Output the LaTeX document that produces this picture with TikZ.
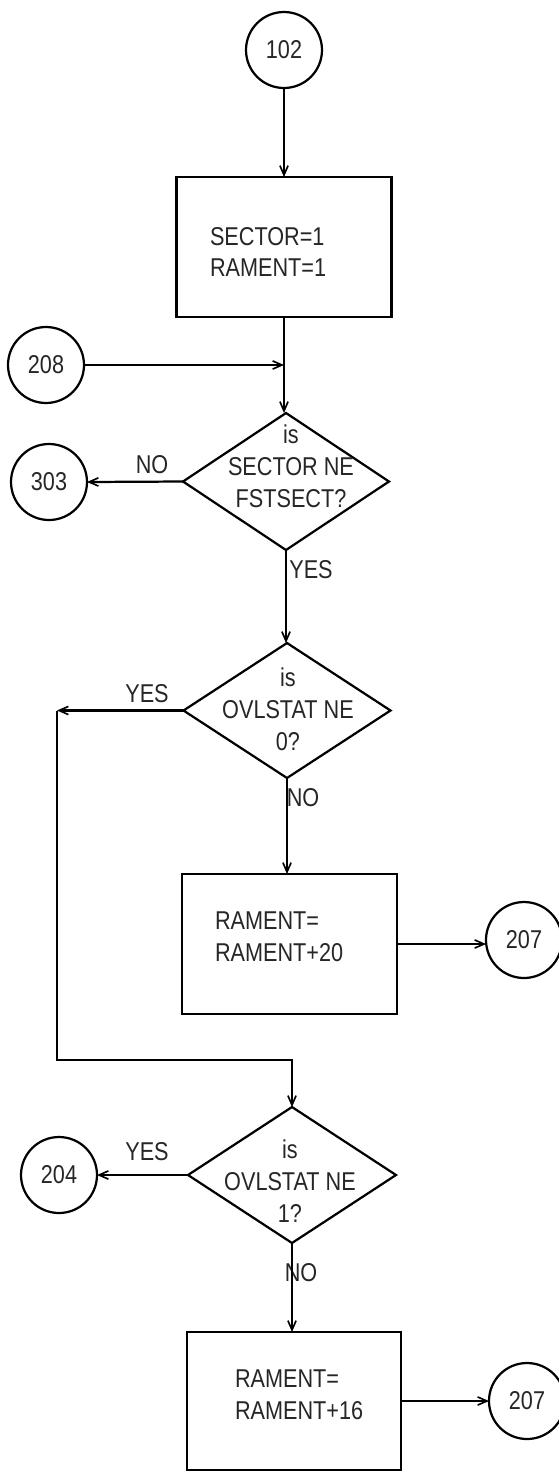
\documentclass[tikz,border=0pt]{standalone}
\usepackage{fontspec}
\setmainfont[FakeStretch=0.84]{Liberation Sans}
\usetikzlibrary{shapes.geometric,arrows.meta}
\begin{document}
\begin{tikzpicture}[x=0.03cm,y=-0.03cm,
  every node/.style={font=\fontsize{22}{27.2}\selectfont, inner sep=0pt, outer sep=0pt, text=black!85},
  conn/.style={circle, draw, line width=1.9pt, minimum size=76*0.03cm},
  stepbox/.style={rectangle, draw, line width=1.9pt},
  decide/.style={diamond, draw, line width=1.9pt},
  txt/.style={align=left, anchor=west},
  dtxt/.style={align=center},
  lbl/.style={},
  flow/.style={line width=1.9pt, -{Straight Barb[length=8pt,width=7pt,line width=1.4pt]}},
  plain/.style={line width=1.9pt}
]
\useasboundingbox[fill=white] (0,0) rectangle (559,1473);

% nodes
\node[conn] (c102) at (284,50) {102};
\node[stepbox, minimum width=215*0.03cm, minimum height=140*0.03cm] (b1) at (284,247) {};
\node[txt] (t1) at (210,252) {SECTOR=1\\RAMENT=1};

\node[conn] (c208) at (46,365) {208};
\node[decide, minimum width=206*0.03cm, minimum height=137*0.03cm] (d1) at (286,481.5) {};
\node[dtxt] (td1) at (291,466) {is\\SECTOR NE\\FSTSECT?};
\node[conn] (c303) at (49,482) {303};
\node[lbl] (no1) at (152,465) {NO};
\node[lbl] (yes1) at (311,570) {YES};

\node[decide, minimum width=207*0.03cm, minimum height=135*0.03cm] (d2) at (287,710.5) {};
\node[dtxt] (td2) at (288,709) {is\\OVLSTAT NE\\0?};
\node[lbl] (yes2) at (147,694) {YES};
\node[lbl] (no2) at (303,798) {NO};

\node[stepbox, minimum width=215*0.03cm, minimum height=140*0.03cm] (b2) at (289.5,944) {};
\node[txt] (t2) at (215,937) {RAMENT=\\RAMENT+20};
\node[conn] (c207a) at (524,940) {207};

\node[decide, minimum width=208*0.03cm, minimum height=136*0.03cm] (d3) at (292,1175) {};
\node[dtxt] (td3) at (290,1181) {is\\OVLSTAT NE\\1?};
\node[conn] (c204) at (59,1175) {204};
\node[lbl] (yes3) at (147,1152) {YES};
\node[lbl] (no3) at (301,1273) {NO};

\node[stepbox, minimum width=214*0.03cm, minimum height=138*0.03cm] (b3) at (294,1401) {};
\node[txt] (t3) at (235,1395) {RAMENT=\\RAMENT+16};
\node[conn] (c207b) at (527,1401) {207};

\coordinate (j1) at (c208 -| b1.south);
\coordinate (k1) at (57,710.5);
\coordinate (k2) at (57,1060);
\coordinate (k3) at (d3.north |- k2);

% connectors
\draw[flow] (c102.south) -- (c102.south |- b1.north);
\draw[plain] (b1.south) -- (j1);
\draw[flow] (j1) -- (j1 |- d1.north);
\draw[flow] (c208.east) -- (j1);
\draw[flow] (d1.west) -- (c303.east);
\draw[flow] (d1.south) -- (d1.south |- d2.north);
\draw[flow] (d2.west) -- (k1);
\draw[flow] (k1) -- (k2) -- (k3) -- (d3.north);
\draw[flow] (d2.south) -- (d2.south |- b2.north);
\draw[flow] (b2.east) -- (b2.east -| c207a.west);
\draw[flow] (d3.west) -- (c204.east);
\draw[flow] (d3.south) -- (d3.south |- b3.north);
\draw[flow] (b3.east) -- (b3.east -| c207b.west);
\end{tikzpicture}
\end{document}
